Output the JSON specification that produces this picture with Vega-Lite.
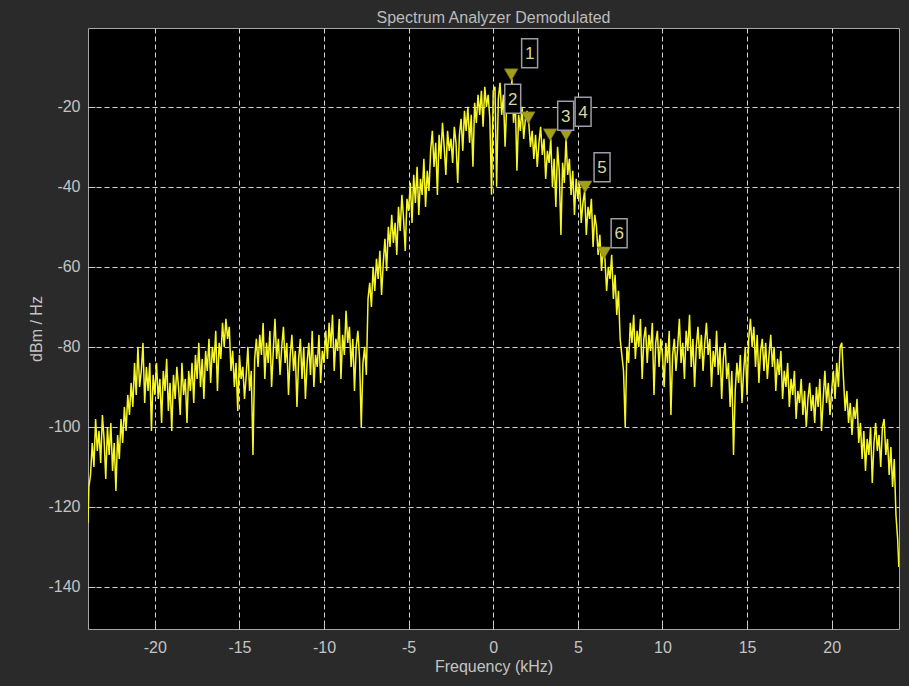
{
"$schema": "https://vega.github.io/schema/vega-lite/v6.json",
"width": 811, "height": 601,
"autosize": {"type": "none"},
"padding": {"left": 88, "top": 28, "right": 10, "bottom": 57},
"background": "#2a2a2a",
"title": {"text": "Spectrum Analyzer Demodulated", "anchor": "middle", "baseline": "bottom", "offset": -14, "color": "#bcbcbc", "font": "Liberation Sans", "fontSize": 16, "fontWeight": "normal"},
"config": {
 "view": {"fill": "#000000", "stroke": "#a6a6a6", "strokeWidth": 1},
 "axis": {"domain": false, "ticks": true, "tickSize": -7, "tickColor": "#c8c8c8", "tickWidth": 1, "grid": true, "gridColor": "#d4d4d4", "gridDash": [5, 3], "gridWidth": 1, "gridOpacity": 1, "labelColor": "#c4c4c4", "labelFont": "Liberation Sans", "labelFontSize": 16, "titleColor": "#c4c4c4", "titleFont": "Liberation Sans", "titleFontSize": 16, "titleFontWeight": "normal", "labelExpr": "replace(datum.label, '\u2212', '-')"}
},
"datasets": {
 "spectrum": [
{"f":-23.95,"p":-124},{"f":-23.9,"p":-115},{"f":-23.8,"p":-112},{"f":-23.7,"p":-104},{"f":-23.6,"p":-110},{"f":-23.5,"p":-98},{"f":-23.4,"p":-106},{"f":-23.3,"p":-101},{"f":-23.2,"p":-109},{"f":-23.1,"p":-97},{"f":-23.0,"p":-103},
{"f":-22.9,"p":-113},{"f":-22.8,"p":-100},{"f":-22.7,"p":-107},{"f":-22.6,"p":-99},{"f":-22.5,"p":-111},{"f":-22.4,"p":-104},{"f":-22.3,"p":-116},{"f":-22.2,"p":-102},{"f":-22.1,"p":-108},{"f":-22.0,"p":-98},
{"f":-21.9,"p":-104},{"f":-21.8,"p":-95},{"f":-21.7,"p":-101},{"f":-21.6,"p":-92},{"f":-21.5,"p":-97},{"f":-21.4,"p":-89},{"f":-21.3,"p":-95},{"f":-21.2,"p":-84},{"f":-21.1,"p":-92},{"f":-21.0,"p":-80},
{"f":-20.9,"p":-90},{"f":-20.8,"p":-86},{"f":-20.7,"p":-79},{"f":-20.6,"p":-94},{"f":-20.5,"p":-85},{"f":-20.4,"p":-91},{"f":-20.3,"p":-84},{"f":-20.2,"p":-101},{"f":-20.1,"p":-87},{"f":-20.0,"p":-92},
{"f":-19.9,"p":-84},{"f":-19.8,"p":-93},{"f":-19.7,"p":-88},{"f":-19.6,"p":-99},{"f":-19.5,"p":-86},{"f":-19.4,"p":-91},{"f":-19.3,"p":-83},{"f":-19.2,"p":-96},{"f":-19.1,"p":-89},{"f":-19.0,"p":-101},
{"f":-18.9,"p":-87},{"f":-18.8,"p":-93},{"f":-18.7,"p":-85},{"f":-18.6,"p":-90},{"f":-18.5,"p":-97},{"f":-18.4,"p":-84},{"f":-18.3,"p":-92},{"f":-18.2,"p":-88},{"f":-18.1,"p":-99},{"f":-18.0,"p":-86},
{"f":-17.9,"p":-91},{"f":-17.8,"p":-84},{"f":-17.7,"p":-94},{"f":-17.6,"p":-82},{"f":-17.5,"p":-88},{"f":-17.4,"p":-79},{"f":-17.3,"p":-90},{"f":-17.2,"p":-83},{"f":-17.1,"p":-93},{"f":-17.0,"p":-81},
{"f":-16.9,"p":-86},{"f":-16.8,"p":-78},{"f":-16.7,"p":-89},{"f":-16.6,"p":-80},{"f":-16.5,"p":-84},{"f":-16.4,"p":-76},{"f":-16.3,"p":-91},{"f":-16.2,"p":-79},{"f":-16.1,"p":-83},{"f":-16.0,"p":-74},
{"f":-15.9,"p":-80},{"f":-15.8,"p":-73},{"f":-15.7,"p":-78},{"f":-15.6,"p":-75},{"f":-15.5,"p":-86},{"f":-15.4,"p":-81},{"f":-15.3,"p":-90},{"f":-15.2,"p":-84},{"f":-15.1,"p":-96},{"f":-15.0,"p":-82},
{"f":-14.9,"p":-88},{"f":-14.8,"p":-85},{"f":-14.7,"p":-93},{"f":-14.6,"p":-87},{"f":-14.5,"p":-80},{"f":-14.4,"p":-91},{"f":-14.3,"p":-86},{"f":-14.2,"p":-107},{"f":-14.1,"p":-83},{"f":-14.0,"p":-78},
{"f":-13.9,"p":-85},{"f":-13.8,"p":-77},{"f":-13.7,"p":-82},{"f":-13.6,"p":-74},{"f":-13.5,"p":-88},{"f":-13.4,"p":-79},{"f":-13.3,"p":-84},{"f":-13.2,"p":-76},{"f":-13.1,"p":-90},{"f":-13.0,"p":-81},
{"f":-12.9,"p":-73},{"f":-12.8,"p":-83},{"f":-12.7,"p":-78},{"f":-12.6,"p":-87},{"f":-12.5,"p":-80},{"f":-12.4,"p":-75},{"f":-12.3,"p":-84},{"f":-12.2,"p":-79},{"f":-12.1,"p":-92},{"f":-12.0,"p":-82},
{"f":-11.9,"p":-77},{"f":-11.8,"p":-86},{"f":-11.7,"p":-81},{"f":-11.6,"p":-95},{"f":-11.5,"p":-83},{"f":-11.4,"p":-78},{"f":-11.3,"p":-88},{"f":-11.2,"p":-80},{"f":-11.1,"p":-93},{"f":-11.0,"p":-84},
{"f":-10.9,"p":-79},{"f":-10.8,"p":-87},{"f":-10.7,"p":-76},{"f":-10.6,"p":-90},{"f":-10.5,"p":-82},{"f":-10.4,"p":-85},{"f":-10.3,"p":-77},{"f":-10.2,"p":-89},{"f":-10.1,"p":-81},{"f":-10.0,"p":-84},
{"f":-9.9,"p":-76},{"f":-9.8,"p":-83},{"f":-9.7,"p":-74},{"f":-9.6,"p":-80},{"f":-9.5,"p":-72},{"f":-9.4,"p":-86},{"f":-9.3,"p":-78},{"f":-9.2,"p":-81},{"f":-9.1,"p":-73},{"f":-9.0,"p":-88},
{"f":-8.9,"p":-77},{"f":-8.8,"p":-82},{"f":-8.7,"p":-71},{"f":-8.6,"p":-79},{"f":-8.5,"p":-75},{"f":-8.4,"p":-85},{"f":-8.3,"p":-78},{"f":-8.2,"p":-91},{"f":-8.1,"p":-80},{"f":-8.0,"p":-76},
{"f":-7.9,"p":-83},{"f":-7.8,"p":-100},{"f":-7.7,"p":-84},{"f":-7.6,"p":-80},{"f":-7.5,"p":-87},{"f":-7.4,"p":-68},{"f":-7.3,"p":-64},{"f":-7.2,"p":-70},{"f":-7.1,"p":-60},{"f":-7.0,"p":-66},
{"f":-6.9,"p":-58},{"f":-6.8,"p":-63},{"f":-6.7,"p":-56},{"f":-6.6,"p":-67},{"f":-6.5,"p":-59},{"f":-6.4,"p":-53},{"f":-6.3,"p":-61},{"f":-6.2,"p":-50},{"f":-6.1,"p":-55},{"f":-6.0,"p":-47},
{"f":-5.9,"p":-54},{"f":-5.8,"p":-49},{"f":-5.7,"p":-57},{"f":-5.6,"p":-45},{"f":-5.5,"p":-51},{"f":-5.4,"p":-42},{"f":-5.3,"p":-48},{"f":-5.2,"p":-56},{"f":-5.1,"p":-43},{"f":-5.0,"p":-46},
{"f":-4.9,"p":-39},{"f":-4.8,"p":-49},{"f":-4.7,"p":-37},{"f":-4.6,"p":-44},{"f":-4.5,"p":-35},{"f":-4.4,"p":-47},{"f":-4.3,"p":-38},{"f":-4.2,"p":-42},{"f":-4.1,"p":-33},{"f":-4.0,"p":-45},
{"f":-3.9,"p":-36},{"f":-3.8,"p":-41},{"f":-3.7,"p":-31},{"f":-3.6,"p":-26},{"f":-3.5,"p":-35},{"f":-3.4,"p":-29},{"f":-3.3,"p":-42},{"f":-3.2,"p":-27},{"f":-3.1,"p":-33},{"f":-3.0,"p":-24},
{"f":-2.9,"p":-30},{"f":-2.8,"p":-37},{"f":-2.7,"p":-26},{"f":-2.6,"p":-31},{"f":-2.5,"p":-28},{"f":-2.4,"p":-34},{"f":-2.3,"p":-25},{"f":-2.2,"p":-29},{"f":-2.1,"p":-39},{"f":-2.0,"p":-27},
{"f":-1.9,"p":-23},{"f":-1.8,"p":-31},{"f":-1.7,"p":-21},{"f":-1.6,"p":-26},{"f":-1.5,"p":-20},{"f":-1.4,"p":-29},{"f":-1.3,"p":-22},{"f":-1.2,"p":-35},{"f":-1.1,"p":-19},{"f":-1.0,"p":-24},
{"f":-0.9,"p":-17},{"f":-0.8,"p":-22},{"f":-0.7,"p":-16},{"f":-0.6,"p":-25},{"f":-0.5,"p":-15},{"f":-0.4,"p":-20},{"f":-0.3,"p":-17},{"f":-0.2,"p":-23},{"f":-0.1,"p":-42},{"f":0.0,"p":-16},
{"f":0.1,"p":-15},{"f":0.2,"p":-40},{"f":0.3,"p":-18},{"f":0.4,"p":-14},{"f":0.5,"p":-22},{"f":0.6,"p":-17},{"f":0.7,"p":-30},{"f":0.8,"p":-19},{"f":0.9,"p":-15},{"f":1.0,"p":-21},
{"f":1.1,"p":-13},{"f":1.2,"p":-24},{"f":1.3,"p":-18},{"f":1.4,"p":-36},{"f":1.5,"p":-22},{"f":1.6,"p":-26},{"f":1.7,"p":-20},{"f":1.8,"p":-28},{"f":1.9,"p":-23},{"f":2.0,"p":-21},
{"f":2.1,"p":-24},{"f":2.2,"p":-30},{"f":2.3,"p":-26},{"f":2.4,"p":-33},{"f":2.5,"p":-27},{"f":2.6,"p":-35},{"f":2.7,"p":-29},{"f":2.8,"p":-25},{"f":2.9,"p":-32},{"f":3.0,"p":-28},
{"f":3.1,"p":-38},{"f":3.2,"p":-31},{"f":3.3,"p":-34},{"f":3.4,"p":-28},{"f":3.5,"p":-40},{"f":3.6,"p":-33},{"f":3.7,"p":-45},{"f":3.8,"p":-30},{"f":3.9,"p":-36},{"f":4.0,"p":-52},
{"f":4.1,"p":-34},{"f":4.2,"p":-39},{"f":4.3,"p":-28},{"f":4.4,"p":-37},{"f":4.5,"p":-33},{"f":4.6,"p":-42},{"f":4.7,"p":-36},{"f":4.8,"p":-47},{"f":4.9,"p":-38},{"f":5.0,"p":-43},
{"f":5.1,"p":-39},{"f":5.2,"p":-49},{"f":5.3,"p":-44},{"f":5.4,"p":-41},{"f":5.5,"p":-52},{"f":5.6,"p":-45},{"f":5.7,"p":-48},{"f":5.8,"p":-43},{"f":5.9,"p":-55},{"f":6.0,"p":-47},
{"f":6.1,"p":-50},{"f":6.2,"p":-57},{"f":6.3,"p":-52},{"f":6.4,"p":-61},{"f":6.5,"p":-55},{"f":6.6,"p":-58},{"f":6.7,"p":-66},{"f":6.8,"p":-60},{"f":6.9,"p":-63},{"f":7.0,"p":-57},
{"f":7.1,"p":-68},{"f":7.2,"p":-62},{"f":7.3,"p":-72},{"f":7.4,"p":-66},{"f":7.5,"p":-78},{"f":7.6,"p":-82},{"f":7.7,"p":-86},{"f":7.8,"p":-100},{"f":7.9,"p":-80},{"f":8.0,"p":-84},
{"f":8.1,"p":-74},{"f":8.2,"p":-79},{"f":8.3,"p":-72},{"f":8.4,"p":-83},{"f":8.5,"p":-76},{"f":8.6,"p":-80},{"f":8.7,"p":-73},{"f":8.8,"p":-88},{"f":8.9,"p":-78},{"f":9.0,"p":-75},
{"f":9.1,"p":-84},{"f":9.2,"p":-77},{"f":9.3,"p":-81},{"f":9.4,"p":-74},{"f":9.5,"p":-92},{"f":9.6,"p":-79},{"f":9.7,"p":-76},{"f":9.8,"p":-85},{"f":9.9,"p":-78},{"f":10.0,"p":-82},
{"f":10.1,"p":-90},{"f":10.2,"p":-79},{"f":10.3,"p":-84},{"f":10.4,"p":-76},{"f":10.5,"p":-97},{"f":10.6,"p":-82},{"f":10.7,"p":-78},{"f":10.8,"p":-86},{"f":10.9,"p":-80},{"f":11.0,"p":-73},
{"f":11.1,"p":-84},{"f":11.2,"p":-79},{"f":11.3,"p":-88},{"f":11.4,"p":-76},{"f":11.5,"p":-81},{"f":11.6,"p":-72},{"f":11.7,"p":-85},{"f":11.8,"p":-78},{"f":11.9,"p":-90},{"f":12.0,"p":-80},
{"f":12.1,"p":-75},{"f":12.2,"p":-83},{"f":12.3,"p":-77},{"f":12.4,"p":-86},{"f":12.5,"p":-79},{"f":12.6,"p":-74},{"f":12.7,"p":-82},{"f":12.8,"p":-78},{"f":12.9,"p":-90},{"f":13.0,"p":-81},
{"f":13.1,"p":-85},{"f":13.2,"p":-76},{"f":13.3,"p":-87},{"f":13.4,"p":-80},{"f":13.5,"p":-93},{"f":13.6,"p":-83},{"f":13.7,"p":-79},{"f":13.8,"p":-88},{"f":13.9,"p":-84},{"f":14.0,"p":-95},
{"f":14.1,"p":-86},{"f":14.2,"p":-107},{"f":14.3,"p":-91},{"f":14.4,"p":-84},{"f":14.5,"p":-89},{"f":14.6,"p":-82},{"f":14.7,"p":-94},{"f":14.8,"p":-86},{"f":14.9,"p":-80},{"f":15.0,"p":-92},
{"f":15.1,"p":-78},{"f":15.2,"p":-73},{"f":15.3,"p":-80},{"f":15.4,"p":-75},{"f":15.5,"p":-85},{"f":15.6,"p":-77},{"f":15.7,"p":-89},{"f":15.8,"p":-81},{"f":15.9,"p":-78},{"f":16.0,"p":-86},
{"f":16.1,"p":-79},{"f":16.2,"p":-88},{"f":16.3,"p":-82},{"f":16.4,"p":-77},{"f":16.5,"p":-85},{"f":16.6,"p":-80},{"f":16.7,"p":-91},{"f":16.8,"p":-83},{"f":16.9,"p":-87},{"f":17.0,"p":-81},
{"f":17.1,"p":-93},{"f":17.2,"p":-86},{"f":17.3,"p":-90},{"f":17.4,"p":-84},{"f":17.5,"p":-95},{"f":17.6,"p":-88},{"f":17.7,"p":-92},{"f":17.8,"p":-86},{"f":17.9,"p":-98},{"f":18.0,"p":-91},
{"f":18.1,"p":-94},{"f":18.2,"p":-88},{"f":18.3,"p":-97},{"f":18.4,"p":-91},{"f":18.5,"p":-100},{"f":18.6,"p":-93},{"f":18.7,"p":-89},{"f":18.8,"p":-96},{"f":18.9,"p":-92},{"f":19.0,"p":-99},
{"f":19.1,"p":-90},{"f":19.2,"p":-95},{"f":19.3,"p":-88},{"f":19.4,"p":-101},{"f":19.5,"p":-93},{"f":19.6,"p":-86},{"f":19.7,"p":-94},{"f":19.8,"p":-89},{"f":19.9,"p":-97},{"f":20.0,"p":-91},
{"f":20.1,"p":-86},{"f":20.2,"p":-93},{"f":20.3,"p":-84},{"f":20.4,"p":-90},{"f":20.5,"p":-80},{"f":20.6,"p":-79},{"f":20.7,"p":-88},{"f":20.8,"p":-96},{"f":20.9,"p":-91},{"f":21.0,"p":-99},
{"f":21.1,"p":-94},{"f":21.2,"p":-102},{"f":21.3,"p":-95},{"f":21.4,"p":-98},{"f":21.5,"p":-93},{"f":21.6,"p":-104},{"f":21.7,"p":-99},{"f":21.8,"p":-108},{"f":21.9,"p":-101},{"f":22.0,"p":-111},
{"f":22.1,"p":-103},{"f":22.2,"p":-107},{"f":22.3,"p":-100},{"f":22.4,"p":-114},{"f":22.5,"p":-104},{"f":22.6,"p":-99},{"f":22.7,"p":-106},{"f":22.8,"p":-102},{"f":22.9,"p":-110},{"f":23.0,"p":-100},
{"f":23.1,"p":-98},{"f":23.2,"p":-107},{"f":23.3,"p":-103},{"f":23.4,"p":-112},{"f":23.5,"p":-105},{"f":23.6,"p":-115},{"f":23.7,"p":-108},{"f":23.8,"p":-122},{"f":23.9,"p":-128},{"f":23.97,"p":-135}
 ],
 "markers": [
{"id":"1","f":1.06,"p":-12,"lf":2.15,"lp":-6.6},
{"id":"2","f":2.07,"p":-22.75,"lf":1.15,"lp":-18},
{"id":"3","f":3.36,"p":-27,"lf":4.28,"lp":-22.25},
{"id":"4","f":4.31,"p":-27,"lf":5.31,"lp":-21.25},
{"id":"5","f":5.43,"p":-40,"lf":6.43,"lp":-35.1},
{"id":"6","f":6.55,"p":-56.5,"lf":7.44,"lp":-51.6}
 ]
},
"encoding": {
 "x": {"type": "quantitative", "scale": {"domain": [-23.95, 23.98], "nice": false, "zero": false},
       "axis": {"title": "Frequency (kHz)", "values": [-20, -15, -10, -5, 0, 5, 10, 15, 20], "labelPadding": 17, "titlePadding": 3}},
 "y": {"type": "quantitative", "scale": {"domain": [-150.5, -0.3], "nice": false, "zero": false},
       "axis": {"title": "dBm / Hz", "values": [-140, -120, -100, -80, -60, -40, -20], "labelPadding": 15, "titlePadding": 3}}
},
"layer": [
 {
  "data": {"name": "spectrum"},
  "mark": {"type": "line", "color": "#f7f728", "strokeWidth": 1.5, "clip": true},
  "encoding": {"x": {"field": "f"}, "y": {"field": "p"}}
 },
 {
  "data": {"name": "markers"},
  "mark": {"type": "point", "shape": "triangle-down", "filled": true, "fill": "#a39f1c", "stroke": "#6e6a10", "strokeWidth": 0.5, "size": 190, "opacity": 1},
  "encoding": {"x": {"field": "f"}, "y": {"field": "p"}}
 },
 {
  "data": {"name": "markers"},
  "mark": {"type": "point", "shape": "M-0.55,-1L0.55,-1L0.55,1L-0.55,1Z", "filled": true, "fill": "#000000", "stroke": "#9c9ca8", "strokeWidth": 1.5, "size": 841, "opacity": 1},
  "encoding": {"x": {"field": "lf"}, "y": {"field": "lp"}}
 },
 {
  "data": {"name": "markers"},
  "mark": {"type": "text", "font": "Liberation Sans", "fontSize": 17, "color": "#dcd89a", "align": "center", "baseline": "middle", "dy": 1},
  "encoding": {"x": {"field": "lf"}, "y": {"field": "lp"}, "text": {"field": "id"}}
 }
]
}
